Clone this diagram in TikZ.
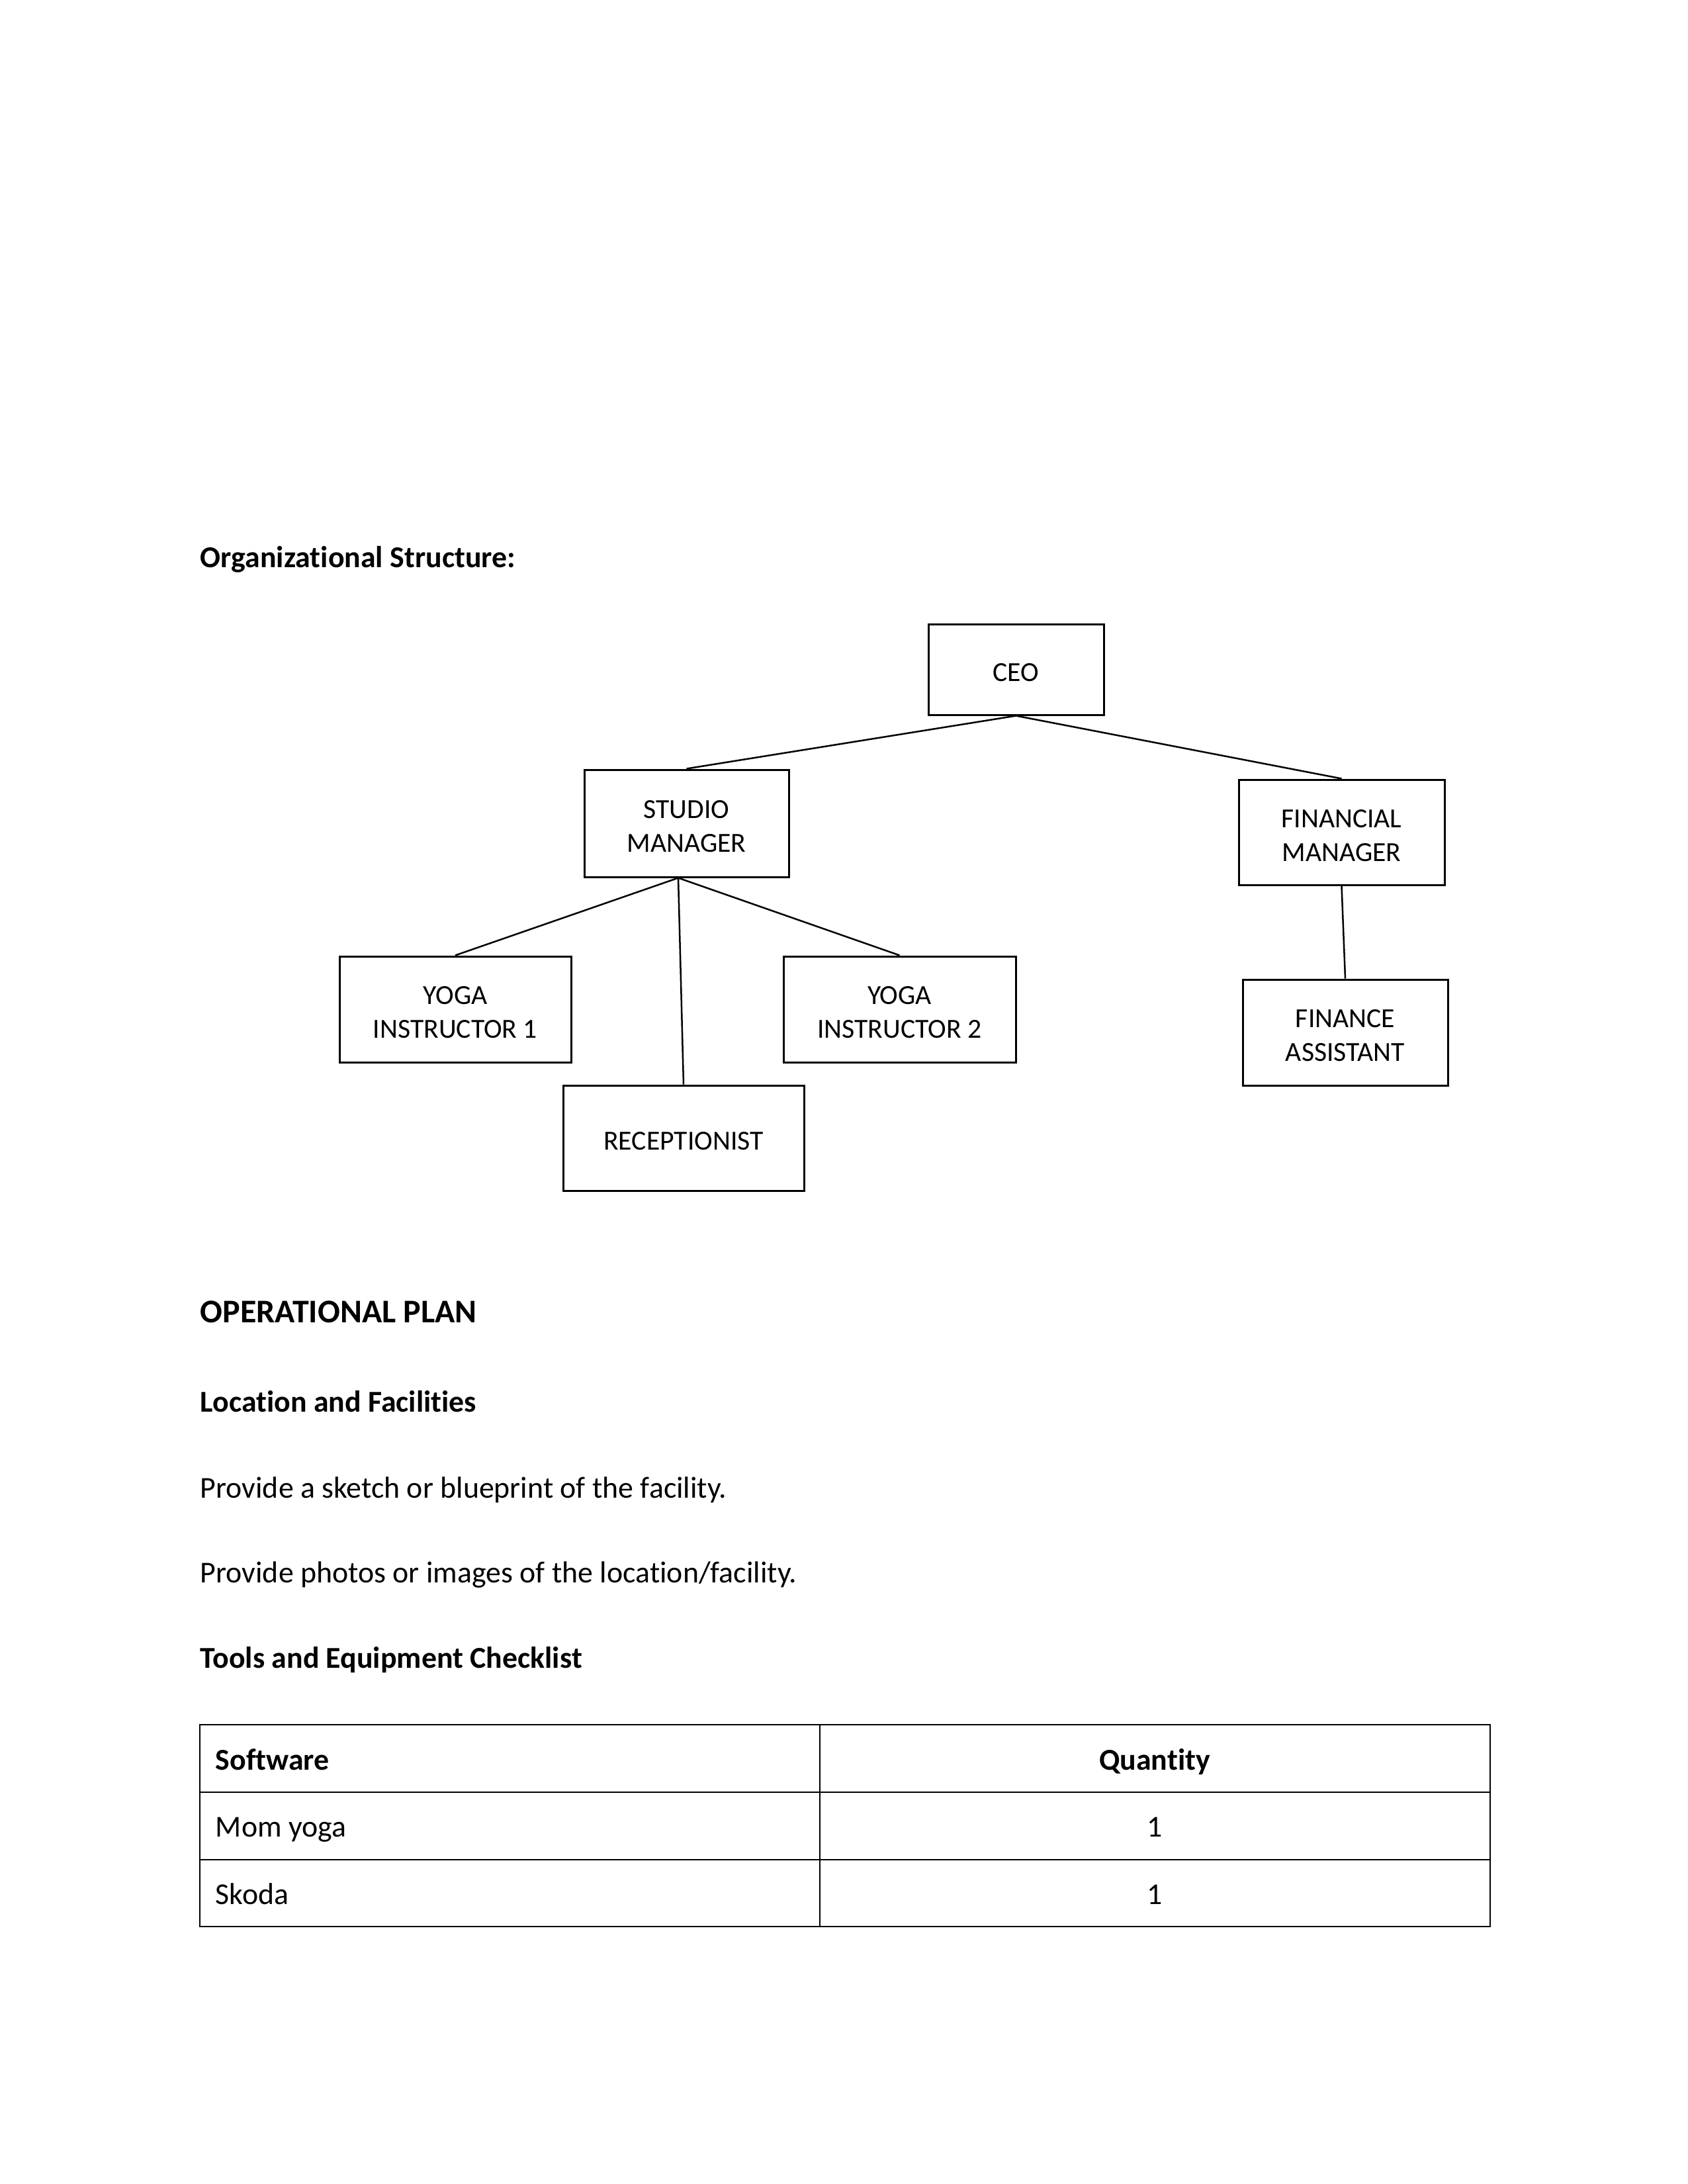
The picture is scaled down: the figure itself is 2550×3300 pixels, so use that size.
\documentclass[tikz,border=0pt]{standalone}
\usepackage{fontspec}
\setmainfont{Carlito}[Ligatures=NoCommon]
\usetikzlibrary{calc}
\begin{document}
\begin{tikzpicture}[x=0.24pt,y=-0.24pt,
  orgbox/.style={draw, line width=0.72pt, inner sep=0pt},
  boxlabel/.style={align=center, inner sep=0pt, yshift=-1.2pt, font=\fontsize{10}{12.2}\selectfont},
  link/.style={line width=0.6pt},
  heading/.style={anchor=base west, inner sep=0pt, font=\bfseries\fontsize{11}{13.4}\selectfont},
  bigheading/.style={anchor=base west, inner sep=0pt, font=\bfseries\fontsize{12}{14.6}\selectfont},
  bodytext/.style={anchor=base west, inner sep=0pt, font=\fontsize{11}{13.4}\selectfont},
  celltext/.style={anchor=base, inner sep=0pt, font=\fontsize{11}{13.4}\selectfont},
  cellleft/.style={anchor=base west, inner sep=0pt, font=\fontsize{11}{13.4}\selectfont},
  tablegrid/.style={line width=0.6pt}]
\useasboundingbox (0,0) rectangle (2550,3300);

% headings
\node[heading] (h1) at (302,857) {Organizational Structure:};

% org chart
\node[orgbox, minimum width=63.6pt, minimum height=32.88pt, label={[boxlabel]center:CEO}] (ceo) at (1535.5,1011.5) {};
\node[orgbox, minimum width=74.16pt, minimum height=38.88pt, label={[boxlabel]center:{STUDIO\\MANAGER}}] (sm) at (1037.5,1244) {};
\node[orgbox, minimum width=74.64pt, minimum height=38.16pt, label={[boxlabel]center:{FINANCIAL\\MANAGER}}] (fm) at (2027.5,1257.5) {};
\node[orgbox, minimum width=74.4pt, minimum height=38.4pt, label={[boxlabel]center:{FINANCE\\ASSISTANT}}] (fa) at (2033,1560) {};
\node[orgbox, minimum width=84pt, minimum height=38.4pt, label={[boxlabel]center:{YOGA\\INSTRUCTOR 1}}] (yi1) at (688,1525) {};
\node[orgbox, minimum width=84.24pt, minimum height=38.4pt, label={[boxlabel]center:{YOGA\\INSTRUCTOR 2}}] (yi2) at (1359.5,1525) {};
\node[orgbox, minimum width=87.36pt, minimum height=38.16pt, label={[boxlabel]center:RECEPTIONIST}] (rec) at (1033,1719.5) {};

\coordinate (smb) at ($(sm.south)+(-12.5,0)$);
\draw[link] (ceo.south) -- (sm.north);
\draw[link] (ceo.south) -- (fm.north);
\draw[link] (fm.south) -- (fa.north);
\draw[link] (smb) -- (yi1.north);
\draw[link] (smb) -- (yi2.north);
\draw[link] (smb) -- (rec.north);

% operational plan
\node[bigheading] (h2) at (302,1998) {OPERATIONAL PLAN};
\node[heading] (h3) at (302,2133) {Location and Facilities};
\node[bodytext] (p1) at (302,2263) {Provide a sketch or blueprint of the facility.};
\node[bodytext] (p2) at (302,2391) {Provide photos or images of the location/facility.};
\node[heading] (h4) at (302,2520) {Tools and Equipment Checklist};

% table
\draw[tablegrid] (302,2606) rectangle (2252,2911);
\draw[tablegrid] (302,2708) -- (2252,2708);
\draw[tablegrid] (302,2810) -- (2252,2810);
\draw[tablegrid] (1239,2606) -- (1239,2911);

\node[cellleft, font=\bfseries\fontsize{11}{13.4}\selectfont] (t11) at (325,2674) {Software};
\node[celltext, font=\bfseries\fontsize{11}{13.4}\selectfont] (t12) at (1745,2674) {Quantity};
\node[cellleft] (t21) at (325,2775) {Mom yoga};
\node[celltext] (t22) at (1745,2775) {1};
\node[cellleft] (t31) at (325,2877) {Skoda};
\node[celltext] (t32) at (1745,2877) {1};
\end{tikzpicture}
\end{document}
